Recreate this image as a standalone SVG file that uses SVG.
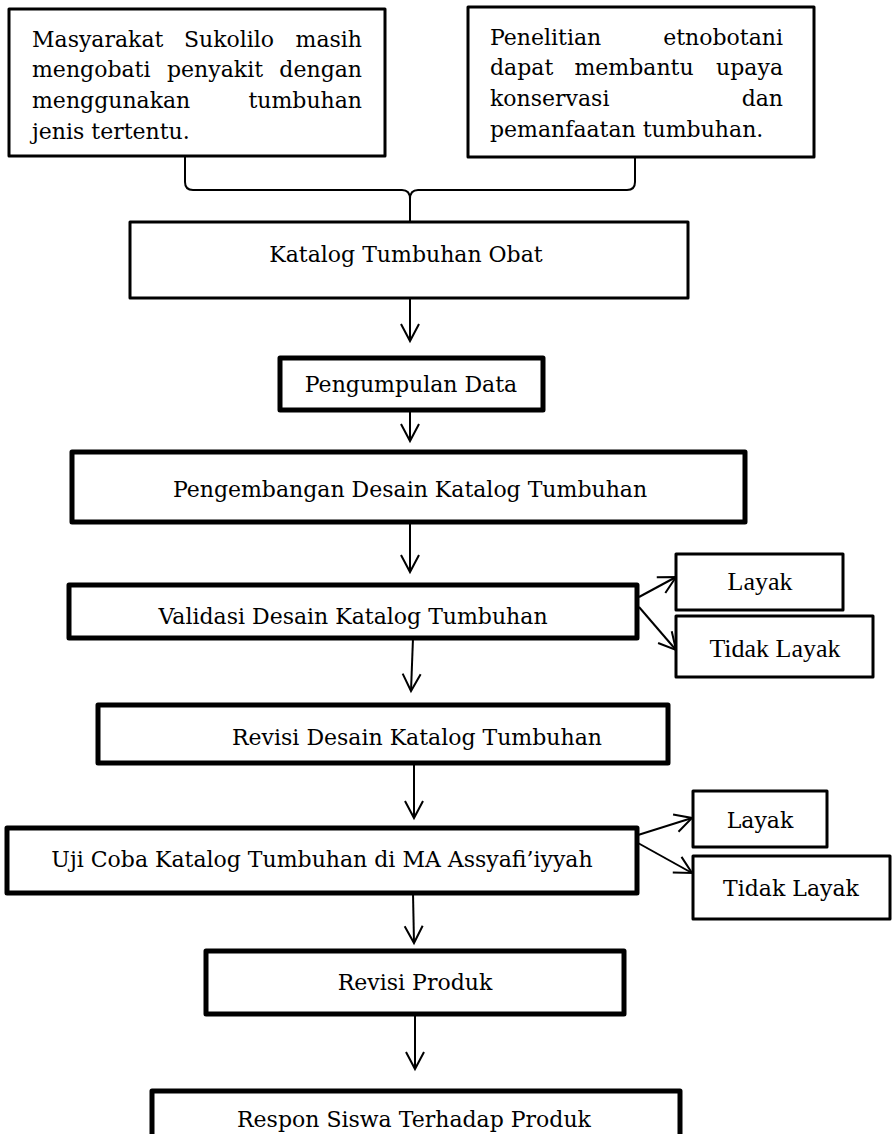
<svg xmlns="http://www.w3.org/2000/svg" width="892" height="1134" viewBox="0 0 892 1134">
<defs>
<style>
.bx{fill:#fff;stroke:#000;stroke-linejoin:round}
.t3{stroke-width:3}
.t5{stroke-width:5}
.tx{font-family:"DejaVu Serif","Liberation Serif",serif;font-size:22px;fill:#000}
.c{text-anchor:middle}
.e{text-anchor:end}
.tm{font-family:"Liberation Serif","Times New Roman",serif;font-size:26px;fill:#000;text-anchor:middle}
.ln{fill:none;stroke:#000;stroke-width:2}
</style>
<marker id="ah" markerUnits="userSpaceOnUse" markerWidth="40" markerHeight="40" refX="0" refY="0" orient="auto" viewBox="-20 -20 40 40" overflow="visible">
<path d="M-17,-9 L0,0 L-17,9" fill="none" stroke="#000" stroke-width="2" stroke-linejoin="miter"/>
</marker>
</defs>
<rect width="892" height="1134" fill="#fff"/>

<g id="connectors">
<path class="ln" d="M185,157 L185,182 Q185,190 193,190 L402,190 Q410,190 410,199 L410,222"/>
<path class="ln" d="M635,157 L635,182 Q635,190 627,190 L418,190 Q410,190 410,199"/>
<path class="ln" d="M410,298 L410,341" marker-end="url(#ah)"/>
<path class="ln" d="M410,410 L410,441" marker-end="url(#ah)"/>
<path class="ln" d="M410,522 L410,572" marker-end="url(#ah)"/>
<path class="ln" d="M639,597 L676,577" marker-end="url(#ah)"/>
<path class="ln" d="M639,607 L676,650" marker-end="url(#ah)"/>
<path class="ln" d="M413,638 L411,691" marker-end="url(#ah)"/>
<path class="ln" d="M414,763 L414,818" marker-end="url(#ah)"/>
<path class="ln" d="M638,835 L692,818" marker-end="url(#ah)"/>
<path class="ln" d="M638,843 L692,873" marker-end="url(#ah)"/>
<path class="ln" d="M413,893 L414,943" marker-end="url(#ah)"/>
<path class="ln" d="M415,1014 L415,1069" marker-end="url(#ah)"/>
</g>

<g id="n-masyarakat">
<rect class="bx t3" x="9" y="9" width="376" height="147"/>
<text class="tx" x="32" y="47">Masyarakat</text>
<text class="tx c" x="229" y="47">Sukolilo</text>
<text class="tx e" x="362" y="47">masih</text>
<text class="tx" x="32" y="77">mengobati</text>
<text class="tx c" x="215" y="77">penyakit</text>
<text class="tx e" x="362" y="77">dengan</text>
<text class="tx" x="32" y="108">menggunakan</text>
<text class="tx e" x="362" y="108">tumbuhan</text>
<text class="tx" x="32" y="139">jenis tertentu.</text>
</g>

<g id="n-penelitian">
<rect class="bx t3" x="468" y="7" width="346" height="150"/>
<text class="tx" x="490" y="45">Penelitian</text>
<text class="tx e" x="783" y="45">etnobotani</text>
<text class="tx" x="490" y="75">dapat</text>
<text class="tx c" x="634" y="75">membantu</text>
<text class="tx e" x="783" y="75">upaya</text>
<text class="tx" x="490" y="106">konservasi</text>
<text class="tx e" x="783" y="106">dan</text>
<text class="tx" x="490" y="137">pemanfaatan tumbuhan.</text>
</g>

<g id="n-katalog">
<rect class="bx t3" x="130" y="222" width="558" height="76"/>
<text class="tx c" x="406" y="262">Katalog Tumbuhan Obat</text>
</g>

<g id="n-pengumpulan">
<rect class="bx t5" x="280" y="358" width="263" height="52"/>
<text class="tx c" x="411" y="392">Pengumpulan Data</text>
</g>

<g id="n-pengembangan">
<rect class="bx t5" x="72" y="452" width="673" height="70"/>
<text class="tx c" x="410" y="497">Pengembangan Desain Katalog Tumbuhan</text>
</g>

<g id="n-validasi">
<rect class="bx t5" x="69" y="585" width="568" height="53"/>
<text class="tx c" x="353" y="624">Validasi Desain Katalog Tumbuhan</text>
</g>

<g id="n-layak1">
<rect class="bx t3" x="676" y="554" width="167" height="56"/>
<text class="tm" x="760" y="590">Layak</text>
</g>

<g id="n-tidaklayak1">
<rect class="bx t3" x="676" y="616" width="197" height="61"/>
<text class="tm" x="775" y="657">Tidak Layak</text>
</g>

<g id="n-revisidesain">
<rect class="bx t5" x="98" y="705" width="570" height="58"/>
<text class="tx c" x="417" y="745">Revisi Desain Katalog Tumbuhan</text>
</g>

<g id="n-ujicoba">
<rect class="bx t5" x="7" y="828" width="630" height="65"/>
<text class="tx c" x="322" y="867">Uji Coba Katalog Tumbuhan di MA Assyafi’iyyah</text>
</g>

<g id="n-layak2">
<rect class="bx t3" x="693" y="791" width="134" height="56"/>
<text class="tx c" x="760" y="828">Layak</text>
</g>

<g id="n-tidaklayak2">
<rect class="bx t3" x="693" y="856" width="197" height="63"/>
<text class="tx c" x="791" y="896">Tidak Layak</text>
</g>

<g id="n-revisiproduk">
<rect class="bx t5" x="206" y="951" width="418" height="63"/>
<text class="tx c" x="415" y="990">Revisi Produk</text>
</g>

<g id="n-respon">
<rect class="bx t5" x="152" y="1091" width="528" height="70"/>
<text class="tx c" x="414" y="1127">Respon Siswa Terhadap Produk</text>
</g>
</svg>
